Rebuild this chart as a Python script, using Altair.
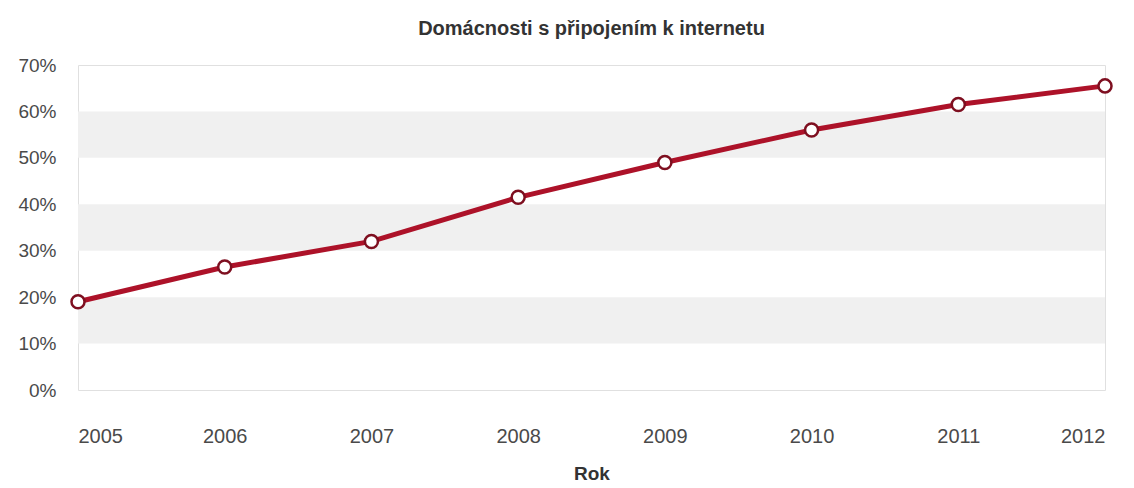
import altair as alt
import pandas as pd

years = [2005, 2006, 2007, 2008, 2009, 2010, 2011, 2012]
values = [0.19, 0.265, 0.32, 0.415, 0.49, 0.56, 0.615, 0.655]
band_low = [0.10, 0.30, 0.50]
band_high = [0.20, 0.40, 0.60]

df = pd.DataFrame({"Rok": years, "v": values})
bands = pd.DataFrame({"lo": band_low, "hi": band_high})

FONT = "Liberation Sans"

x_scale = alt.Scale(domain=[2005, 2012], nice=False, zero=False)
y_scale = alt.Scale(domain=[0, 0.7], nice=False)

band_layer = alt.Chart(bands).mark_rect(color="#f0f0f0").encode(
    y=alt.Y("lo:Q", scale=y_scale),
    y2="hi:Q",
    x=alt.value(0),
    x2=alt.value(1027),
)

line = alt.Chart(df).mark_line(color="#ad1229", strokeWidth=5).encode(
    x=alt.X("Rok:Q", scale=x_scale,
            axis=alt.Axis(values=years, format="d", title="Rok", ticks=False,
                          domain=False, grid=False, labelPadding=36,
                          labelFontSize=20, labelColor="#4a4a4a", labelFont=FONT,
                          titleFont=FONT, titleFontSize=19, titleFontWeight="bold",
                          titleColor="#333", titlePadding=18)),
    y=alt.Y("v:Q", scale=y_scale,
            axis=alt.Axis(values=[0, 0.1, 0.2, 0.3, 0.4, 0.5, 0.6, 0.7], format=".0%",
                          title=None, ticks=False, domain=False, grid=False,
                          labelPadding=22, labelFontSize=19, labelColor="#4a4a4a",
                          labelFont=FONT)),
)

points = alt.Chart(df).mark_point(filled=True, fill="white", stroke="#7e0f20",
                                  strokeWidth=2.5, size=170, opacity=1).encode(
    x=alt.X("Rok:Q", scale=x_scale),
    y=alt.Y("v:Q", scale=y_scale),
)

chart = alt.layer(band_layer, line, points).properties(
    width=1027,
    height=325,
    title=alt.TitleParams("Domácnosti s připojením k internetu", font=FONT,
                          fontSize=20, fontWeight="bold", color="#333", offset=17),
    autosize=alt.AutoSizeParams(type="none"),
    padding={"left": 70, "top": 57, "right": 20, "bottom": 97},
).configure_view(stroke="#e0e0e0", strokeWidth=1)

chart.save("out.html", embed_options={"renderer": "svg", "actions": False})
